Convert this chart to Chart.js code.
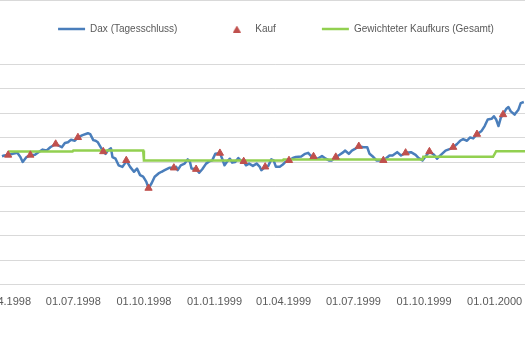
<!DOCTYPE html>
<html>

<head>
    <meta charset="utf-8">
    <title>Dax Sparplan</title>
    <style>
        html, body { margin: 0; padding: 0; background: #ffffff; overflow: hidden; }
        body { width: 525px; height: 350px; position: relative; }
        #chart { position: absolute; left: -59px; top: 0; }
        #topline { position: absolute; left: 0; top: 0; width: 525px; border-top: 1px solid #d9d9d9; z-index: 2; }
    </style>
</head>

<body>
    <canvas id="chart" width="670" height="350"></canvas>
    <div id="topline"></div>

    <script src="https://cdn.jsdelivr.net/npm/chart.js@4"></script>
    <script type="text/javascript">
        // Dax Tagesschluss
        const daxDates = [
            '1998-03-30', '1998-04-02', '1998-04-07', '1998-04-13', '1998-04-19', '1998-04-23', '1998-04-26',
            '1998-05-01', '1998-05-06', '1998-05-12', '1998-05-18', '1998-05-22', '1998-05-27', '1998-06-01',
            '1998-06-08', '1998-06-12', '1998-06-16', '1998-06-20', '1998-06-24', '1998-06-28', '1998-07-03',
            '1998-07-07', '1998-07-13', '1998-07-20', '1998-07-23', '1998-07-27', '1998-07-30', '1998-08-02',
            '1998-08-05', '1998-08-09', '1998-08-12', '1998-08-15', '1998-08-19', '1998-08-21', '1998-08-25',
            '1998-08-29', '1998-09-03', '1998-09-06', '1998-09-08', '1998-09-13', '1998-09-18', '1998-09-22',
            '1998-09-26', '1998-09-30', '1998-10-04', '1998-10-07', '1998-10-11', '1998-10-15', '1998-10-20',
            '1998-10-24', '1998-10-28', '1998-11-03', '1998-11-09', '1998-11-12', '1998-11-14', '1998-11-18',
            '1998-11-23', '1998-11-27', '1998-11-30', '1998-12-02', '1998-12-08', '1998-12-12', '1998-12-16',
            '1998-12-21', '1998-12-25', '1998-12-29', '1999-01-02', '1999-01-08', '1999-01-11', '1999-01-14',
            '1999-01-17', '1999-01-21', '1999-01-24', '1999-01-28', '1999-02-01', '1999-02-04', '1999-02-08',
            '1999-02-11', '1999-02-15', '1999-02-20', '1999-02-25', '1999-03-01', '1999-03-03', '1999-03-08',
            '1999-03-12', '1999-03-16', '1999-03-19', '1999-03-22', '1999-03-27', '1999-03-31', '1999-04-04',
            '1999-04-08', '1999-04-13', '1999-04-17', '1999-04-24', '1999-04-29', '1999-05-03', '1999-05-06',
            '1999-05-10', '1999-05-15', '1999-05-21', '1999-05-26', '1999-05-30', '1999-06-03', '1999-06-08',
            '1999-06-13', '1999-06-18', '1999-06-20', '1999-06-25', '1999-06-29', '1999-07-03', '1999-07-08',
            '1999-07-14', '1999-07-19', '1999-07-22', '1999-07-27', '1999-07-31', '1999-08-04', '1999-08-09',
            '1999-08-13', '1999-08-17', '1999-08-21', '1999-08-27', '1999-09-01', '1999-09-07', '1999-09-14',
            '1999-09-20', '1999-09-24', '1999-09-29', '1999-10-03', '1999-10-08', '1999-10-14', '1999-10-18',
            '1999-10-23', '1999-10-29', '1999-11-04', '1999-11-08', '1999-11-13', '1999-11-17', '1999-11-21',
            '1999-11-26', '1999-11-30', '1999-12-04', '1999-12-09', '1999-12-15', '1999-12-19', '1999-12-23',
            '1999-12-28', '1999-12-31', '2000-01-03', '2000-01-06', '2000-01-09', '2000-01-12', '2000-01-16',
            '2000-01-19', '2000-01-22', '2000-01-27', '2000-02-01', '2000-02-04', '2000-02-08'
        ];
        const daxValues = [
            5240, 5272, 5290, 5340, 5380, 5208, 5008,
            5208, 5290, 5300, 5432, 5512, 5472, 5608,
            5740, 5672, 5608, 5780, 5808, 5912, 5872,
            6008, 6100, 6180, 6140, 5900, 5872, 5808,
            5648, 5432, 5340, 5472, 5568, 5208, 5140,
            4872, 4808, 4940, 5072, 4808, 4608, 4740,
            4472, 4408, 4208, 3940, 4140, 4408, 4540,
            4608, 4672, 4768, 4768, 4808, 4672, 4872,
            4940, 5112, 5008, 4740, 4712, 4568, 4712,
            4940, 5032, 5072, 5340, 5368, 5140, 4872,
            5008, 5140, 4980, 5008, 5168, 5072, 5032,
            4872, 4940, 4848, 4940, 4808, 4672, 4808,
            4848, 5112, 5072, 4808, 4808, 4900, 5032,
            5072, 5168, 5208, 5232, 5340, 5380, 5272,
            5232, 5140, 5248, 5140, 5072, 5072, 5208,
            5300, 5408, 5472, 5340, 5472, 5540, 5648,
            5608, 5608, 5340, 5208, 5072, 5072, 5072,
            5168, 5272, 5272, 5408, 5272, 5380, 5408,
            5300, 5168, 5072, 5232, 5432, 5300, 5140,
            5300, 5472, 5540, 5608, 5740, 5872, 5940,
            5872, 6008, 5968, 6140, 6272, 6472, 6740,
            6768, 6872, 6740, 6472, 6808, 6940, 7168,
            7248, 7072, 6940, 7140, 7408, 7450
        ];

        // Kauf (monatlich)
        const kaufDates = [
            '1998-04-07', '1998-05-06', '1998-06-08', '1998-07-07', '1998-08-09', '1998-09-08',
            '1998-10-07', '1998-11-09', '1998-12-08', '1999-01-08', '1999-02-08', '1999-03-08',
            '1999-04-08', '1999-05-10', '1999-06-08', '1999-07-08', '1999-08-09', '1999-09-07',
            '1999-10-08', '1999-11-08', '1999-12-09', '2000-01-12'
        ];
        const kaufValues = [
            5290, 5290, 5740, 6008, 5432, 5072,
            3940, 4768, 4712, 5368, 5032, 4808,
            5072, 5232, 5208, 5648, 5072, 5380,
            5432, 5608, 6140, 6940
        ];

        // Gewichteter Kaufkurs (Gesamt)
        const gesamtDates = [
            '1998-04-07', '1998-06-30', '1998-07-01', '1998-09-30', '1998-10-01', '1999-03-31',
            '1999-04-01', '1999-09-29', '1999-09-30', '1999-12-30', '2000-01-03', '2000-02-10'
        ];
        const gesamtValues = [
            5432, 5432, 5472, 5472, 5072, 5072,
            5112, 5112, 5220, 5220, 5448, 5448
        ];

        const tickLabels = [
            '01.04.1998', '01.07.1998', '01.10.1998', '01.01.1999',
            '01.04.1999', '01.07.1999', '01.10.1999', '01.01.2000'
        ];
        const yTicks = [0, 1000, 2000, 3000, 4000, 5000, 6000, 7000, 8000, 9000];

        const seriesNames = ['Dax (Tagesschluss)', 'Kauf', 'Gewichteter Kaufkurs (Gesamt)'];

        // Tage seit 01.04.1998
        const origin = Date.UTC(1998, 3, 1);
        function isoToDay(s) {
            const [y, m, d] = s.split('-').map(Number);
            return (Date.UTC(y, m - 1, d) - origin) / 86400000;
        }
        function labelToDay(s) {
            const [d, m, y] = s.split('.').map(Number);
            return (Date.UTC(y, m - 1, d) - origin) / 86400000;
        }
        function toPoints(dates, values) {
            return dates.map((d, i) => ({ x: isoToDay(d), y: values[i] }));
        }

        const textColor = '#595959';
        const gridColor = '#d9d9d9';
        const kaufColor = '#c0504d';
        const fontFamily = "'Liberation Sans', Arial, sans-serif";

        // kleines Dreieck fuer die Legende
        function triangleIcon(color) {
            const c = document.createElement('canvas');
            c.width = 8;
            c.height = 7;
            const g = c.getContext('2d');
            g.fillStyle = color;
            g.beginPath();
            g.moveTo(4, 0);
            g.lineTo(8, 7);
            g.lineTo(0, 7);
            g.closePath();
            g.fill();
            return c;
        }
        const kaufIcon = triangleIcon(kaufColor);

        const ctx = document.getElementById('chart');
        window.daxChart = new Chart(ctx, {
            type: 'line',
            data: {
                datasets: [{
                    label: seriesNames[0],
                    data: toPoints(daxDates, daxValues),
                    borderColor: '#4a7ebb',
                    borderWidth: 2.5,
                    borderJoinStyle: 'round',
                    tension: 0,
                    pointRadius: 0,
                    pointStyle: 'line',
                    pointBorderColor: '#4a7ebb',
                    pointBorderWidth: 2.5,
                    order: 2
                }, {
                    label: seriesNames[1],
                    data: toPoints(kaufDates, kaufValues),
                    showLine: false,
                    pointStyle: 'triangle',
                    pointRadius: 4.2,
                    pointBackgroundColor: kaufColor,
                    pointBorderColor: kaufColor,
                    pointBorderWidth: 1,
                    backgroundColor: kaufColor,
                    borderColor: kaufColor,
                    order: 0
                }, {
                    label: seriesNames[2],
                    data: toPoints(gesamtDates, gesamtValues),
                    borderColor: '#92d050',
                    borderWidth: 2.5,
                    tension: 0,
                    pointRadius: 0,
                    pointStyle: 'line',
                    pointBorderColor: '#92d050',
                    pointBorderWidth: 2.5,
                    order: 1
                }]
            },
            options: {
                responsive: false,
                animation: false,
                devicePixelRatio: 1,
                events: [],
                layout: {
                    padding: { top: -22, bottom: 30, left: 0, right: 0 }
                },
                plugins: {
                    tooltip: { enabled: false },
                    legend: {
                        position: 'top',
                        labels: {
                            usePointStyle: true,
                            pointStyleWidth: 27,
                            boxHeight: 6,
                            padding: 46,
                            color: textColor,
                            font: { family: fontFamily, size: 10 },
                            sort: (a, b) => a.datasetIndex - b.datasetIndex,
                            generateLabels: (chart) => {
                                const items = Chart.defaults.plugins.legend.labels.generateLabels(chart);
                                items.forEach(item => {
                                    if (item.datasetIndex === 1) item.pointStyle = kaufIcon;
                                });
                                return items;
                            }
                        }
                    }
                },
                scales: {
                    x: {
                        type: 'linear',
                        min: -74.66,
                        max: 784.86,
                        afterBuildTicks: (scale) => {
                            scale.ticks = tickLabels.map(t => ({ value: labelToDay(t) }));
                        },
                        ticks: {
                            autoSkip: false,
                            maxRotation: 0,
                            padding: 11,
                            color: textColor,
                            font: { family: fontFamily, size: 11 },
                            callback: (value, index) => tickLabels[index]
                        },
                        grid: { display: false, drawTicks: false },
                        border: { display: true, color: gridColor, width: 1 }
                    },
                    y: {
                        min: 0,
                        max: 9817,
                        afterBuildTicks: (scale) => {
                            scale.ticks = yTicks.map(v => ({ value: v }));
                        },
                        ticks: { display: false },
                        grid: { color: gridColor, drawTicks: false },
                        border: { display: false }
                    }
                }
            }
        });
    </script>
</body>

</html>
